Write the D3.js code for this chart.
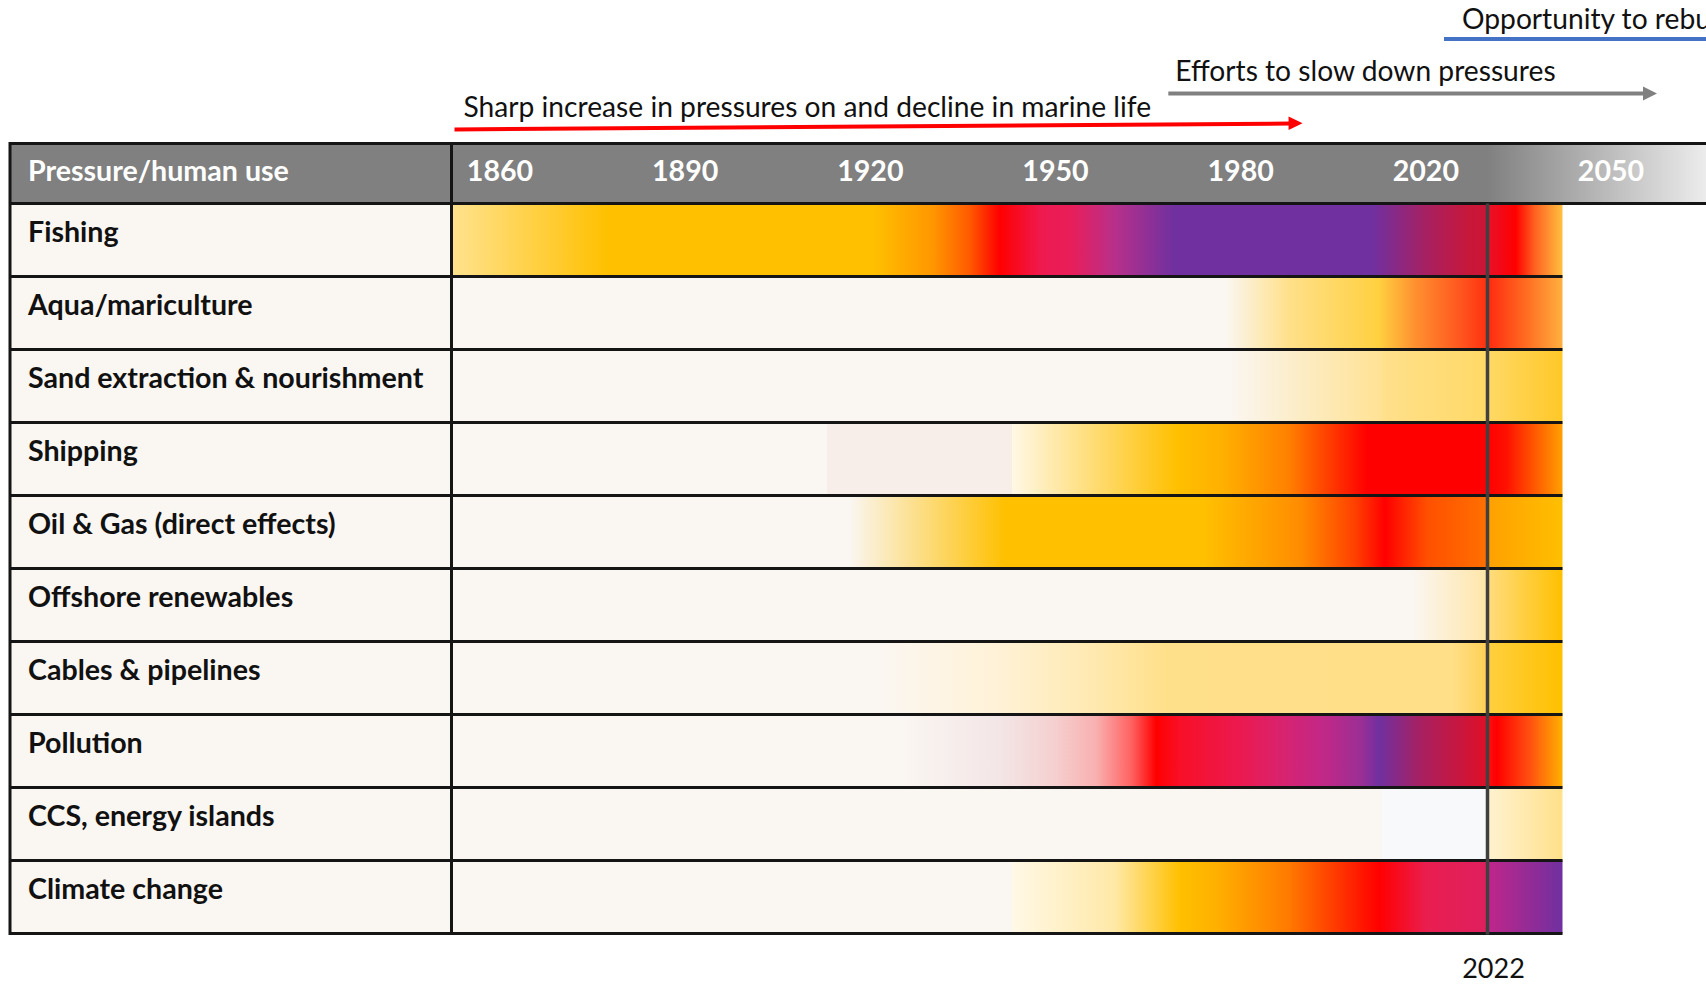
<!DOCTYPE html>
<html>
<head>
<meta charset="utf-8">
<script src="https://cdn.jsdelivr.net/npm/d3@7/dist/d3.min.js"></script>
<style>
  body { margin: 0; background: #fff; overflow: hidden; }
  text { font-family: Lato, "Open Sans", sans-serif; }
</style>
</head>
<body>
<script>
// pressures, top to bottom
var pressures = ["Fishing", "Aqua/mariculture", "Sand extraction & nourishment", "Shipping",
  "Oil & Gas (direct effects)", "Offshore renewables", "Cables & pipelines", "Pollution",
  "CCS, energy islands", "Climate change"];

var yearLabels = ["1860", "1890", "1920", "1950", "1980", "2020", "2050"];
var nowYear = 2022;

// colour stops [year, colour] (bg = empty cell)
var bg = "#faf6f2";
var fishingStops = [[1850,"#ffe28e"],[1876,"#ffc000"],[1920,"#ffc000"],[1930,"#ff9600"],[1936,"#ff5a00"],[1941,"#ff0000"],
  [1948,"#ee1a50"],[1953,"#e81e5a"],[1960,"#b8308a"],[1970,"#7030a0"],[2003,"#7030a0"],[2012,"#a82060"],[2019,"#c8173a"],
  [2022,"#cc1535"],[2022,"#e8102a"],[2025,"#ff0000"],[2027,"#ff6020"],[2030,"#ffc040"]];
var aquaStops = [[1850,bg],[1978.5,bg],[1989,"#ffe08a"],[2004,"#ffd040"],[2010,"#ff9030"],[2017,"#ff5a20"],[2022,"#ff3010"],
  [2022,"#ff2a10"],[2026,"#ff6a20"],[2030,"#ffb040"]];
var sandStops = [[1850,bg],[1979,bg],[2004.3,"#ffe294"],[2004.6,"#ffe08c"],[2022,"#ffd966"],[2022,"#ffd966"],[2030,"#ffc829"]];
var shippingStops = [[1850,bg],[1912.3,bg],[1912.3,"#f7eeea"],[1943,"#f7eeea"],[1943,"#fff8e6"],[1970.5,"#ffc000"],[1978,"#ffb000"],
  [1989,"#ff8000"],[1997,"#ff3000"],[2002,"#ff0000"],[2022,"#ff0000"],[2022,"#ff0000"],[2024,"#ff1000"],[2030,"#ffa000"]];
var oilGasStops = [[1850,bg],[1916,bg],[1942,"#ffc000"],[1975,"#ffc000"],[1991,"#ff8c00"],[2000,"#ff4000"],[2005,"#ff0000"],
  [2012,"#ff5000"],[2022,"#ff7000"],[2022,"#ffa000"],[2030,"#ffbf00"]];
var offshoreStops = [[1850,bg],[2009.5,bg],[2022,"#ffe6a8"],[2022,"#ffdd80"],[2030,"#ffc000"]];
var cablesStops = [[1850,bg],[1920,bg],[1940,"#fff2d8"],[1955,"#ffeab5"],[1968.7,"#ffe08a"],[2016,"#ffdf88"],[2022,"#ffd055"],
  [2022,"#ffd040"],[2030,"#ffc000"]];
var pollutionStops = [[1850,bg],[1925,bg],[1941,"#f3e6e6"],[1950,"#f5d0d0"],[1957,"#f9b0b0"],[1963,"#ff6060"],[1967,"#ff0000"],
  [1971,"#f80f28"],[1981.5,"#ea1a52"],[1988,"#d82370"],[1995,"#c02888"],[2001,"#9b2f95"],[2004,"#7030a0"],[2011,"#a82060"],
  [2021.3,"#dc102a"],[2022,"#e0102a"],[2022,"#ff1010"],[2023,"#ff0000"],[2026.5,"#ff5010"],[2030,"#ffb000"]];
var ccsStops = [[1850,bg],[2004.5,bg],[2004.5,"#f8f9fb"],[2022,"#f8f9fb"],[2022,"#fff2d0"],[2030,"#ffe08a"]];
var climateStops = [[1850,bg],[1943,bg],[1943,"#fff8e6"],[1960,"#ffe9a8"],[1971,"#ffc000"],[1977,"#ffb000"],[1989,"#ff7a00"],
  [1996,"#ff4000"],[2004,"#ff0000"],[2012,"#e91e50"],[2022,"#df1f5f"],[2022,"#c0268a"],[2030,"#7030a0"]];

var allStops = [fishingStops, aquaStops, sandStops, shippingStops, oilGasStops, offshoreStops,
  cablesStops, pollutionStops, ccsStops, climateStops];

var annotations = [
  {text: "Sharp increase in pressures on and decline in marine life", from: 1850, to: 1991.3},
  {text: "Efforts to slow down pressures", from: 1971, to: 2050},
  {text: "Opportunity to rebuild", from: 2016, to: 2060}
];

var width = 1706, height = 985;
var tableLeft = 10, labelRight = 451.5, headTop = 143.6, headBottom = 203.5, tableBottom = 933.5;
var fs = 28.6;

var x = d3.scaleLinear().domain([1850, nowYear, 2030]).range([labelRight, 1487.5, 1562.5]);
var y = d3.scaleBand().domain(pressures).range([headBottom, tableBottom]);
var xLab = d3.scalePoint().domain(yearLabels).range([500, 1611]);

var svg = d3.select("body").append("svg")
  .attr("width", width).attr("height", height)
  .style("display", "block");

var defs = svg.append("defs");
var x0 = x(1850), x1 = x(2030);

allStops.forEach(function(st, i) {
  var g = defs.append("linearGradient").attr("id", "g" + i)
    .attr("gradientUnits", "userSpaceOnUse")
    .attr("x1", x0).attr("x2", x1).attr("y1", 0).attr("y2", 0);
  st.forEach(function(s) {
    g.append("stop").attr("offset", (x(s[0]) - x0) / (x1 - x0)).attr("stop-color", s[1]);
  });
});

var hg = defs.append("linearGradient").attr("id", "head")
  .attr("gradientUnits", "userSpaceOnUse")
  .attr("x1", tableLeft).attr("x2", width).attr("y1", 0).attr("y2", 0);
hg.append("stop").attr("offset", 0).attr("stop-color", "#808080");
hg.append("stop").attr("offset", (x(nowYear) - tableLeft) / (width - tableLeft)).attr("stop-color", "#808080");
hg.append("stop").attr("offset", 1).attr("stop-color", "#ececec");

// header band
svg.append("rect").attr("x", tableLeft).attr("y", headTop)
  .attr("width", width - tableLeft).attr("height", headBottom - headTop)
  .attr("fill", "url(#head)");

// label cells
svg.selectAll("rect.lab").data(pressures).enter().append("rect")
  .attr("class", "lab")
  .attr("x", tableLeft).attr("y", function(d) { return y(d); })
  .attr("width", labelRight - tableLeft).attr("height", y.bandwidth())
  .attr("fill", bg);

// time bars
svg.selectAll("rect.bar").data(pressures).enter().append("rect")
  .attr("class", "bar")
  .attr("x", x0).attr("y", function(d) { return y(d); })
  .attr("width", x1 - x0).attr("height", y.bandwidth())
  .attr("fill", function(d, i) { return "url(#g" + i + ")"; });

// grid lines
var lines = svg.append("g").attr("stroke", "#151515").attr("stroke-width", 3);
lines.append("line").attr("x1", tableLeft).attr("x2", width).attr("y1", headTop).attr("y2", headTop);
lines.append("line").attr("x1", tableLeft).attr("x2", width).attr("y1", headBottom).attr("y2", headBottom);
lines.selectAll("line.row").data(pressures).enter().append("line")
  .attr("class", "row")
  .attr("x1", tableLeft).attr("x2", x1)
  .attr("y1", function(d) { return y(d) + y.bandwidth(); })
  .attr("y2", function(d) { return y(d) + y.bandwidth(); });
lines.append("line").attr("x1", tableLeft).attr("x2", tableLeft).attr("y1", headTop - 1.5).attr("y2", tableBottom + 1.5);
lines.append("line").attr("x1", labelRight).attr("x2", labelRight).attr("y1", headTop).attr("y2", tableBottom);

// now line
svg.append("line").attr("x1", x(nowYear)).attr("x2", x(nowYear))
  .attr("y1", headBottom).attr("y2", tableBottom + 1)
  .attr("stroke", "#404040").attr("stroke-width", 3.5);
svg.append("text").attr("x", x(nowYear) + 6).attr("y", 978)
  .attr("text-anchor", "middle").attr("font-size", 27).attr("fill", "#111")
  .text(nowYear);

// header text
svg.append("text").attr("x", 28).attr("y", 181)
  .attr("font-size", fs).attr("font-weight", 700).attr("fill", "#fff")
  .text("Pressure/human use");
svg.selectAll("text.yr").data(yearLabels).enter().append("text")
  .attr("class", "yr")
  .attr("x", function(d) { return xLab(d); }).attr("y", 181)
  .attr("text-anchor", "middle").attr("font-size", fs).attr("font-weight", 700).attr("fill", "#fff")
  .text(function(d) { return d; });

// row labels
svg.selectAll("text.lab").data(pressures).enter().append("text")
  .attr("class", "lab")
  .attr("x", 28).attr("y", function(d) { return y(d) + 38; })
  .attr("font-size", fs).attr("font-weight", 700).attr("fill", "#111")
  .text(function(d) { return d; });

// annotation arrows
var ann = svg.append("g");
// red
ann.append("line").attr("x1", x(annotations[0].from) + 3).attr("y1", 129.5)
  .attr("x2", x(annotations[0].to) - 12).attr("y2", 123.5)
  .attr("stroke", "#ff0000").attr("stroke-width", 4);
ann.append("path").attr("fill", "#ff0000")
  .attr("d", "M" + (x(annotations[0].to) - 14) + "," + 116.5 + "L" + x(annotations[0].to) + "," + 123.2 +
    "L" + (x(annotations[0].to) - 14) + "," + 130 + "Z");
ann.append("text").attr("x", x(annotations[0].from) + 12).attr("y", 117)
  .attr("font-size", 28.2).attr("fill", "#111").text(annotations[0].text);
// grey
ann.append("line").attr("x1", x(annotations[1].from) - 12).attr("y1", 93.5)
  .attr("x2", 1645).attr("y2", 93.5)
  .attr("stroke", "#808080").attr("stroke-width", 4);
ann.append("path").attr("fill", "#808080")
  .attr("d", "M1643,86.5L1657,93.5L1643,100.5Z");
ann.append("text").attr("x", x(annotations[1].from) - 5).attr("y", 81)
  .attr("font-size", 28.2).attr("fill", "#111").text(annotations[1].text);
// blue
ann.append("line").attr("x1", 1444).attr("y1", 39).attr("x2", width).attr("y2", 39)
  .attr("stroke", "#4472c4").attr("stroke-width", 4);
ann.append("text").attr("x", 1462).attr("y", 29)
  .attr("font-size", 28.2).attr("fill", "#111").text(annotations[2].text);
</script>
</body>
</html>
